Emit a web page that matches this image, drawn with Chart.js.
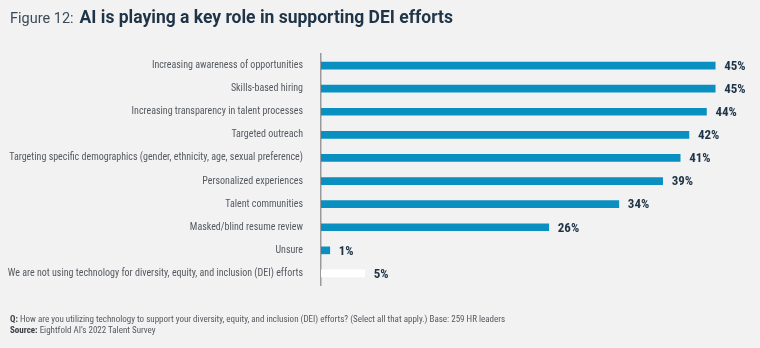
<!DOCTYPE html>
<html>
<head>
<meta charset="utf-8">
<script src="https://cdn.jsdelivr.net/npm/chart.js@4"></script>
<style>
  html, body { margin: 0; padding: 0; background: #f2f2f2; }
  #wrap { position: relative; width: 760px; height: 348px; overflow: hidden; }
  #chart { position: absolute; left: 0; top: 0; }
  .title { position: absolute; left: 10px; top: 7px; white-space: nowrap; color: #1f3447; font-family: Roboto, sans-serif; }
  .title .fig { font-size: 14.5px; font-weight: 400; color: #3a4a58; }
  .title .main { font-size: 17.5px; font-weight: 700; margin-left: 6px; }
  .note { position: absolute; left: 10px; top: 314px; font-family: 'Liberation Sans Narrow', 'Roboto Condensed', Roboto, sans-serif; font-size: 9px; line-height: 11px; color: #555a60; white-space: nowrap; }
  .note b { color: #3a3f45; }
</style>
</head>
<body>
<div id="wrap">
  <canvas id="chart" width="760" height="348"></canvas>
  <div class="title"><span class="fig">Figure 12:</span><span class="main">AI is playing a key role in supporting DEI efforts</span></div>
  <div class="note"><b>Q:</b> How are you utilizing technology to support your diversity, equity, and inclusion (DEI) efforts? (Select all that apply.) Base: 259 HR leaders<br><b>Source:</b> Eightfold AI’s 2022 Talent Survey</div>
</div>
<script>
const categories = [
  'Increasing awareness of opportunities',
  'Skills-based hiring',
  'Increasing transparency in talent processes',
  'Targeted outreach',
  'Targeting specific demographics (gender, ethnicity, age, sexual preference)',
  'Personalized experiences',
  'Talent communities',
  'Masked/blind resume review',
  'Unsure',
  'We are not using technology for diversity, equity, and inclusion (DEI) efforts'
];
const percentages = [45, 45, 44, 42, 41, 39, 34, 26, 1, 5];
const barColors = ['#0a8fc1', '#0a8fc1', '#0a8fc1', '#0a8fc1', '#0a8fc1', '#0a8fc1', '#0a8fc1', '#0a8fc1', '#0a8fc1', '#ffffff'];

const narrow = "'Liberation Sans Narrow', 'Roboto Condensed', Roboto, sans-serif";

// draws the "45%" style labels at the end of each bar
const valueLabels = {
  id: 'valueLabels',
  afterDatasetsDraw(chart) {
    const ctx = chart.ctx;
    const meta = chart.getDatasetMeta(0);
    ctx.save();
    ctx.font = 'bold 13px ' + narrow;
    ctx.fillStyle = '#1f3447';
    ctx.textAlign = 'left';
    ctx.textBaseline = 'middle';
    meta.data.forEach((bar, i) => {
      ctx.fillText(percentages[i] + '%', bar.x + 9, bar.y + 1);
    });
    ctx.restore();
  }
};

const ctx = document.getElementById('chart').getContext('2d');
const chart = new Chart(ctx, {
  type: 'bar',
  data: {
    labels: categories,
    datasets: [{
      data: percentages,
      backgroundColor: barColors,
      borderWidth: 0,
      barThickness: 7
    }]
  },
  options: {
    indexAxis: 'y',
    responsive: false,
    animation: false,
    layout: { padding: { top: 54, bottom: 63, left: 0, right: 1 } },
    plugins: {
      legend: { display: false },
      tooltip: { enabled: false }
    },
    scales: {
      x: {
        display: false,
        min: 0,
        max: 50
      },
      y: {
        afterFit: (scale) => { scale.width = 321; },
        grid: { display: false, drawTicks: false },
        border: { display: true, color: '#9a9a9a', width: 1.5 },
        ticks: {
          padding: 18,
          color: '#555a60',
          font: { family: narrow, size: 10 }
        }
      }
    }
  },
  plugins: [valueLabels]
});
</script>
</body>
</html>
